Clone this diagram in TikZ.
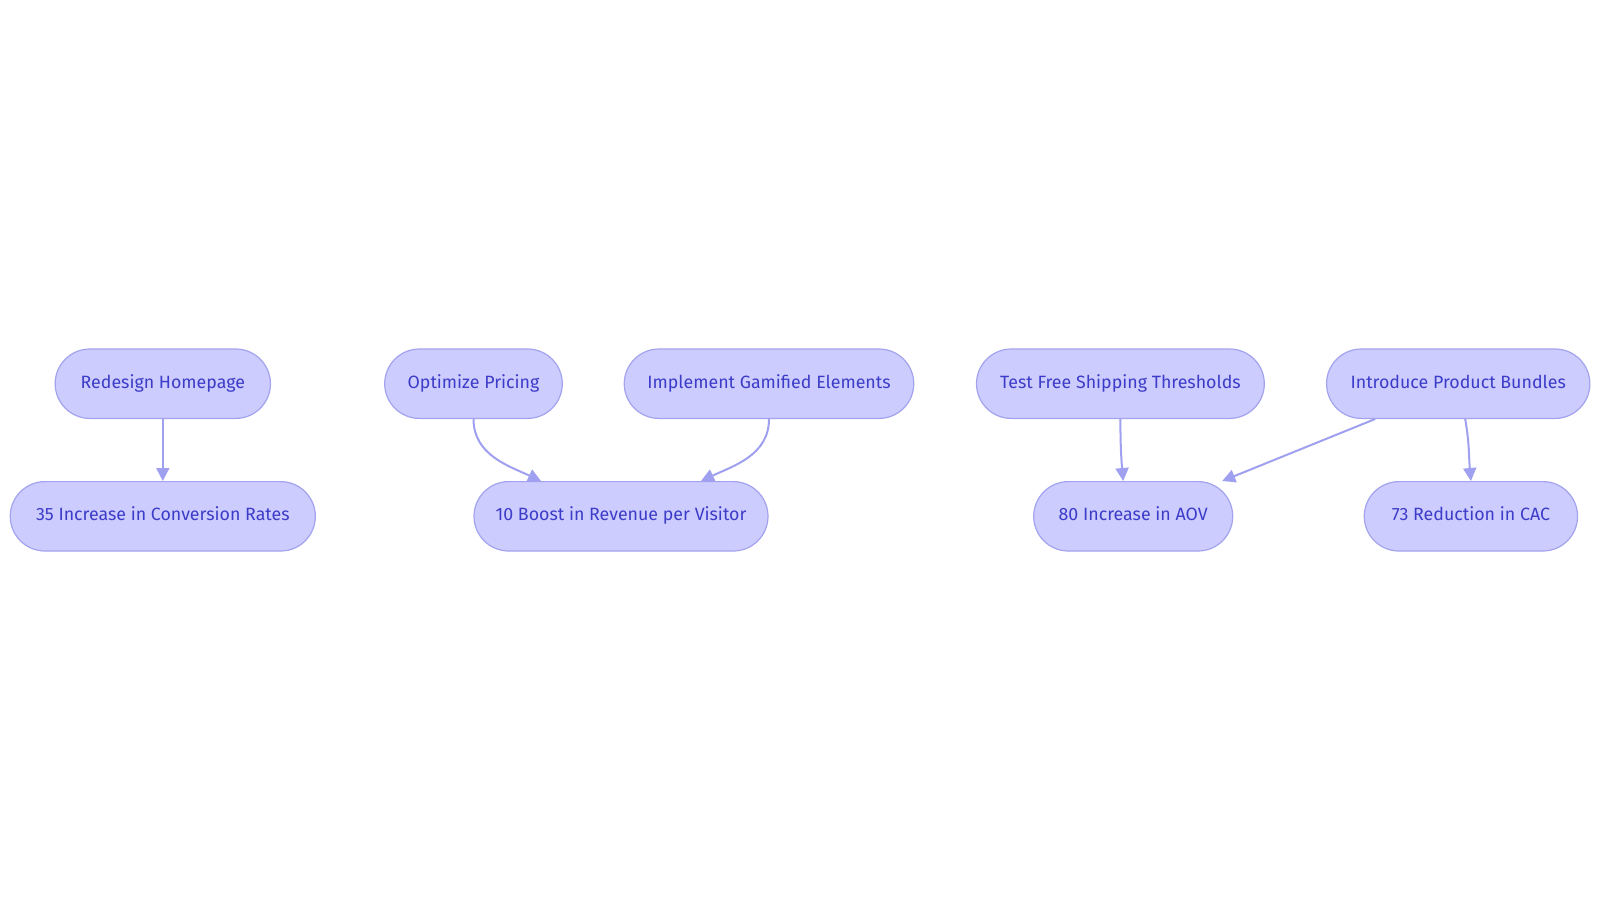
\documentclass[tikz,border=0pt]{standalone}
\usepackage{fontspec}
\setmainfont{Fira Sans}
\usetikzlibrary{arrows.meta,positioning}
\definecolor{pillfill}{HTML}{CCCCFF}
\definecolor{pillline}{HTML}{A3A3EE}
\definecolor{pilltext}{HTML}{3C3CC8}
\definecolor{linkline}{HTML}{A0A0F0}
\begin{document}
\begin{tikzpicture}[x=1pt,y=-1pt,
    main node/.style={draw=pillline,fill=pillfill,text=pilltext,line width=1.2pt,
        rounded corners=34.7pt,minimum height=69.4pt,inner sep=0pt,
        text height=1.95ex,text depth=.25ex,
        font=\fontsize{17.8}{21}\selectfont},
    link/.style={draw=linkline,line width=2pt,-{Triangle[length=13pt,width=13pt,fill=linkline]}}]
    \fill[white] (0,0) rectangle (1600,903);
    \useasboundingbox (0,0) rectangle (1600,903);
    \node[main node,minimum width=215.3pt] (1) at (162.8,383.7) {Redesign Homepage};
    \node[main node,minimum width=305.1pt] (2) at (162.8,516.3) {35 Increase in Conversion Rates};
    \node[main node,minimum width=177.6pt] (3) at (473.5,383.7) {Optimize Pricing};
    \node[main node,minimum width=289.5pt] (4) at (769,383.7) {Implement Gamified Elements};
    \node[main node,minimum width=294pt] (5) at (621,516.3) {10 Boost in Revenue per Visitor};
    \node[main node,minimum width=287.8pt] (6) at (1120.4,383.7) {Test Free Shipping Thresholds};
    \node[main node,minimum width=263.3pt] (7) at (1458.2,383.7) {Introduce Product Bundles};
    \node[main node,minimum width=199pt] (8) at (1133.2,516.3) {80 Increase in AOV};
    \node[main node,minimum width=213.3pt] (9) at (1470.9,516.3) {73 Reduction in CAC};
    \draw[link] (1) -- (2);
    \draw[link] (3.south) to[out=-90,in=155] ([xshift=-80pt]5.north);
    \draw[link] (4.south) to[out=-90,in=25] ([xshift=80pt]5.north);
    \draw[link] (6.south) to[out=-90,in=95] ([xshift=-10pt]8.north);
    \draw[link] ([xshift=-83pt]7.south) -- ([xshift=89pt]8.north);
    \draw[link] ([xshift=7pt]7.south) to[out=-80,in=95] (9.north);
\end{tikzpicture}
\end{document}
